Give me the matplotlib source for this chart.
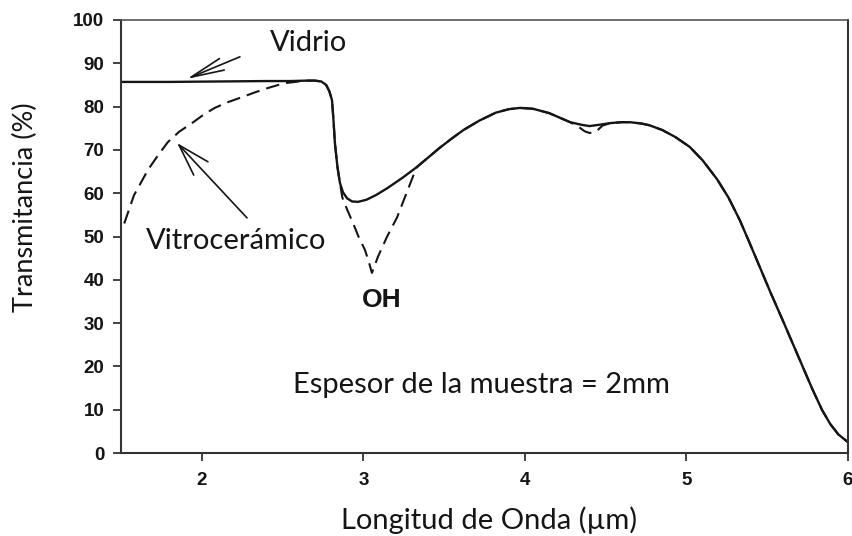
import matplotlib
matplotlib.use("Agg")
import matplotlib.pyplot as plt

# Transmittance spectra (wavelength in µm, transmittance in %)
vidrio_x = [1.50, 1.80, 2.10, 2.40, 2.55, 2.65, 2.70, 2.74, 2.77, 2.79, 2.806, 2.815,
            2.824, 2.84, 2.855, 2.874, 2.90, 2.93, 2.967, 3.02, 3.08, 3.15, 3.24, 3.33,
            3.40, 3.47, 3.55, 3.62, 3.72, 3.82, 3.90, 3.97, 4.05, 4.15, 4.28, 4.35,
            4.40, 4.46, 4.53, 4.60, 4.65, 4.72, 4.77, 4.85, 4.93, 5.02, 5.10, 5.19,
            5.26, 5.33, 5.39, 5.45, 5.52, 5.60, 5.66, 5.72, 5.78, 5.84, 5.89, 5.94, 6.00]
vidrio_y = [85.7, 85.7, 85.8, 85.9, 85.9, 86.0, 86.0, 85.8, 85.0, 83.5, 81.5, 77.0,
            71.6, 66.0, 62.4, 60.2, 58.8, 58.1, 58.0, 58.5, 59.6, 61.2, 63.5, 66.0,
            68.2, 70.4, 72.7, 74.6, 76.8, 78.6, 79.4, 79.7, 79.5, 78.5, 76.4, 75.8,
            75.5, 75.8, 76.2, 76.4, 76.4, 76.1, 75.7, 74.6, 73.0, 70.7, 67.6, 63.2,
            59.0, 53.8, 48.6, 43.3, 37.1, 30.3, 25.1, 19.9, 14.7, 9.9, 6.7, 4.3, 2.5]

vitro_x = [1.52, 1.58, 1.667, 1.73, 1.79, 1.86, 1.94, 2.01, 2.08, 2.16, 2.25, 2.33,
           2.41, 2.51, 2.60, 2.65, 2.70, 2.74, 2.77, 2.79, 2.806, 2.815, 2.824, 2.84,
           2.855, 2.87, 2.90, 2.936, 2.97, 3.01, 3.035, 3.053, 3.07, 3.09, 3.146, 3.21,
           3.27, 3.33, 3.40, 3.47, 3.55, 3.62, 3.72, 3.82, 3.90, 3.97, 4.05, 4.15,
           4.28, 4.33, 4.37, 4.40, 4.44, 4.48, 4.53, 4.60, 4.65, 4.72, 4.77, 4.85,
           4.93, 5.02, 5.10, 5.19, 5.26, 5.33, 5.39, 5.45, 5.52, 5.60, 5.66, 5.72,
           5.78, 5.84, 5.89, 5.94, 6.00]
vitro_y = [53.0, 59.5, 65.4, 68.8, 71.8, 74.2, 76.2, 78.1, 79.7, 81.0, 82.2, 83.3,
           84.3, 85.4, 85.8, 86.0, 86.0, 85.8, 85.0, 83.5, 81.5, 77.0, 71.6, 66.0,
           62.4, 59.0, 56.2, 53.1, 50.0, 46.9, 44.0, 41.6, 43.2, 45.3, 49.9, 54.5,
           60.3, 66.0, 68.2, 70.4, 72.7, 74.6, 76.8, 78.6, 79.4, 79.7, 79.5, 78.5,
           76.4, 75.4, 74.3, 73.9, 74.2, 75.6, 76.2, 76.4, 76.4, 76.1, 75.7, 74.6,
           73.0, 70.7, 67.6, 63.2, 59.0, 53.8, 48.6, 43.3, 37.1, 30.3, 25.1, 19.9,
           14.7, 9.9, 6.7, 4.3, 2.5]

x_ticks = [2, 3, 4, 5, 6]
y_ticks = [0, 10, 20, 30, 40, 50, 60, 70, 80, 90, 100]

label_font = ["Lato", "DejaVu Sans"]
tick_font = ["Liberation Sans", "DejaVu Sans"]
ink = "#151515"

fig = plt.figure(figsize=(8.52, 5.36), dpi=100)
ax = fig.add_axes([121 / 852, 1 - 453 / 536, (848 - 121) / 852, (453 - 20) / 536])

ax.plot(vidrio_x, vidrio_y, color=ink, lw=1.7, solid_capstyle="round",
        solid_joinstyle="round")
ax.plot(vitro_x, vitro_y, color=ink, lw=1.5, dashes=(6.5, 3.4))

ax.set_xlim(1.5, 6)
ax.set_ylim(0, 100)
ax.set_xticks(x_ticks)
ax.set_yticks(y_ticks)
ax.set_xticklabels([str(v) for v in x_ticks], fontfamily=tick_font,
                   fontweight="bold", fontsize=13.5, color=ink)
ax.set_yticklabels([str(v) for v in y_ticks], fontfamily=tick_font,
                   fontweight="bold", fontsize=13.5, color=ink)
ax.tick_params(axis="both", direction="out", length=6, width=1.3, color="#333333")
ax.tick_params(axis="y", pad=6)
ax.tick_params(axis="x", pad=8)

for side in ["left", "bottom", "right"]:
    ax.spines[side].set_color("#333333")
    ax.spines[side].set_linewidth(1.5)
ax.spines["top"].set_color("#555555")
ax.spines["top"].set_linewidth(1.2)

# Curve labels with arrows
ax.text(2.66, 94.6, "Vidrio", fontfamily=label_font, fontsize=21,
        ha="center", va="center", color=ink)
ax.annotate("", xy=(1.908, 86.4), xytext=(2.236, 91.5),
            arrowprops=dict(arrowstyle="->,head_length=2.4,head_width=0.45",
                            lw=1.2, color=ink, mutation_scale=10,
                            shrinkA=0, shrinkB=0))
ax.text(2.21, 49.0, "Vitrocerámico", fontfamily=label_font, fontsize=21,
        ha="center", va="center", color=ink)
ax.annotate("", xy=(1.847, 71.6), xytext=(2.28, 54.3),
            arrowprops=dict(arrowstyle="->,head_length=2.3,head_width=0.7",
                            lw=1.2, color=ink, mutation_scale=10,
                            shrinkA=0, shrinkB=0))
ax.text(3.115, 35.4, "OH", fontfamily=tick_font, fontweight="bold", fontsize=19,
        ha="center", va="center", color=ink)
ax.text(3.73, 15.6, "Espesor de la muestra = 2mm", fontfamily=label_font,
        fontsize=21, ha="center", va="center", color=ink)

fig.text(25 / 852, 1 - 207 / 536, "Transmitancia (%)", fontfamily=label_font,
         fontsize=19.5, rotation=90, ha="center", va="center", color=ink)
fig.text(489 / 852, 1 - 520 / 536, "Longitud de Onda (µm)", fontfamily=label_font,
         fontsize=21, ha="center", va="center", color=ink)

fig.savefig("out.png", dpi=100, facecolor="white")
